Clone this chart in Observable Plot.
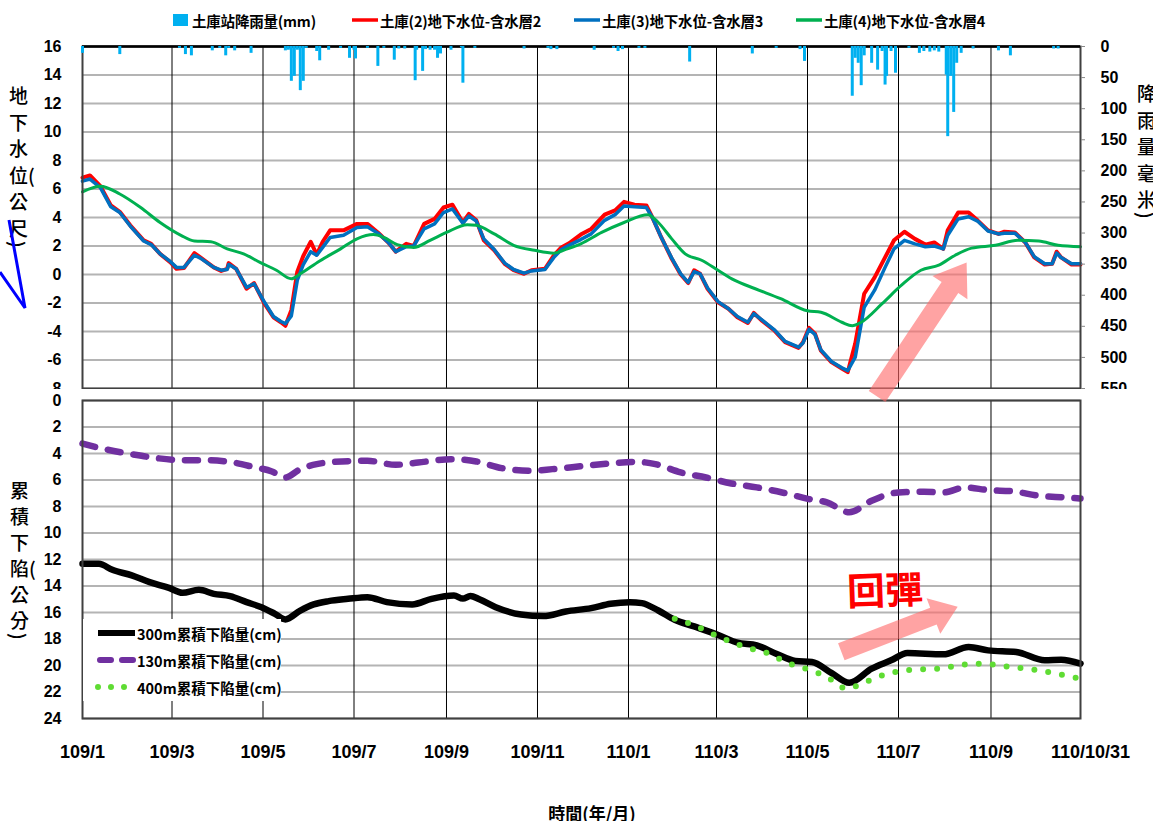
<!DOCTYPE html>
<html>
<head>
<meta charset="utf-8">
<script src="https://cdn.jsdelivr.net/npm/d3@7"></script>
<script src="https://cdn.jsdelivr.net/npm/@observablehq/plot@0.6"></script>
<style>
  html, body { margin: 0; padding: 0; background: #fff; }
  #chart { position: relative; width: 1153px; height: 821px; overflow: hidden; background: #fff; }
  #chart svg { position: absolute; left: 0; }
  .cjk { font-family: "Noto Sans CJK TC", "Noto Sans CJK SC", sans-serif; }
  .legend-top { position: absolute; top: 11px; height: 18px; display: flex; align-items: center; font-size: 14.5px; font-weight: 700; color: #000; white-space: nowrap; letter-spacing: -0.2px; }
  .vtitle { position: absolute; color: #000; font-weight: 500; }
  .vtitle div { position: absolute; left: 0; white-space: nowrap; }
  .sink-legend { position: absolute; left: 83px; top: 619px; width: 198px; height: 82px; background: #fff; }
  .sink-legend .row { position: absolute; left: 12px; height: 20px; display: flex; align-items: center; font-size: 14.5px; font-weight: 700; white-space: nowrap; }
  .xtitle { position: absolute; top: 800px; left: 0; width: 1184px; text-align: center; font-size: 17px; font-weight: 700; }
</style>
</head>
<body>
<div id="chart"></div>
<script>
// ---------- Time axis ----------
const tickDates  = ["2020-01-01","2020-03-01","2020-05-01","2020-07-01","2020-09-01","2020-11-01",
                    "2021-01-01","2021-03-01","2021-05-01","2021-07-01","2021-09-01","2021-10-31"];
const tickLabels = ["109/1","109/3","109/5","109/7","109/9","109/11",
                    "110/1","110/3","110/5","110/7","110/9","110/10/31"];

// ---------- Groundwater level (m): wells (2) and (3) ----------
const levelDates = [
  "2020-01-01","2020-01-06","2020-01-13","2020-01-20","2020-01-26",
  "2020-02-02","2020-02-11","2020-02-16","2020-02-22","2020-02-29",
  "2020-03-04","2020-03-09","2020-03-16","2020-03-20","2020-03-29",
  "2020-04-03","2020-04-07","2020-04-08","2020-04-13","2020-04-20","2020-04-25",
  "2020-05-02","2020-05-08","2020-05-13","2020-05-16","2020-05-20","2020-05-24","2020-05-28",
  "2020-06-02","2020-06-06","2020-06-10","2020-06-15","2020-06-24",
  "2020-07-03","2020-07-10","2020-07-17","2020-07-24","2020-07-29",
  "2020-08-05","2020-08-10","2020-08-17","2020-08-24","2020-08-30",
  "2020-09-05","2020-09-12","2020-09-16","2020-09-21","2020-09-26",
  "2020-10-03","2020-10-10","2020-10-16","2020-10-23","2020-10-28",
  "2020-11-06","2020-11-12","2020-11-17","2020-11-23","2020-11-30",
  "2020-12-07","2020-12-16","2020-12-23","2020-12-29",
  "2021-01-05","2021-01-13","2021-01-17","2021-01-23","2021-01-30",
  "2021-02-05","2021-02-10","2021-02-14","2021-02-18","2021-02-23",
  "2021-03-02","2021-03-09","2021-03-15","2021-03-22","2021-03-26","2021-03-31",
  "2021-04-09","2021-04-16","2021-04-25","2021-04-28",
  "2021-05-02","2021-05-06","2021-05-10","2021-05-17","2021-05-24","2021-05-28",
  "2021-06-02","2021-06-08","2021-06-15","2021-06-22","2021-06-28",
  "2021-07-05","2021-07-12","2021-07-19","2021-07-25","2021-07-31",
  "2021-08-03","2021-08-10","2021-08-17","2021-08-23","2021-08-30",
  "2021-09-06","2021-09-10","2021-09-17","2021-09-24","2021-09-30",
  "2021-10-07","2021-10-12","2021-10-15","2021-10-18","2021-10-25","2021-10-31"
];
const well2Level = [
  6.8, 6.95, 6.2, 4.85, 4.4,
  3.45, 2.4, 2.15, 1.45, 0.85,
  0.4, 0.45, 1.5, 1.2, 0.5,
  0.25, 0.4, 0.8, 0.4, -1.0, -0.6,
  -2.05, -3.0, -3.35, -3.6, -2.5, 0.2, 1.3,
  2.3, 1.4, 2.3, 3.1, 3.1,
  3.55, 3.55, 2.95, 2.25, 1.6,
  2.15, 2.0, 3.55, 3.9, 4.7,
  4.9, 3.65, 4.25, 3.8, 2.4,
  1.7, 0.75, 0.3, 0.05, 0.3,
  0.4, 1.35, 1.9, 2.25, 2.8,
  3.2, 4.2, 4.5, 5.1,
  4.9, 4.85, 4.0, 2.6, 1.1,
  0.0, -0.6, 0.3, 0.05, -1.0,
  -1.95, -2.4, -3.0, -3.4, -2.7, -3.2,
  -3.95, -4.75, -5.15, -4.75,
  -3.75, -4.15, -5.35, -6.15, -6.6, -6.85,
  -4.85, -1.35, -0.2, 1.2, 2.4,
  3.0, 2.5, 2.1, 2.25, 1.8,
  3.1, 4.35, 4.35, 3.8, 3.1,
  2.85, 3.0, 2.95, 2.25, 1.2,
  0.7, 0.75, 1.6, 1.2, 0.7, 0.7
];
const well3Level = [
  6.55, 6.7, 6.1, 4.75, 4.35,
  3.4, 2.35, 2.1, 1.45, 0.9,
  0.5, 0.5, 1.35, 1.15, 0.5,
  0.3, 0.35, 0.7, 0.4, -0.9, -0.65,
  -1.95, -2.95, -3.3, -3.45, -2.9, -0.4, 0.7,
  1.6, 1.35, 1.9, 2.6, 2.75,
  3.3, 3.35, 2.9, 2.25, 1.6,
  1.95, 2.0, 3.2, 3.55, 4.35,
  4.6, 3.6, 4.1, 3.75, 2.5,
  1.75, 0.8, 0.35, 0.1, 0.25,
  0.35, 1.2, 1.75, 2.1, 2.45,
  2.85, 3.8, 4.2, 4.8,
  4.75, 4.7, 4.0, 2.6, 1.15,
  0.05, -0.55, 0.2, 0.05, -0.95,
  -1.9, -2.4, -2.95, -3.35, -2.75, -3.15,
  -3.9, -4.7, -5.1, -4.8,
  -3.85, -4.2, -5.3, -6.1, -6.55, -6.75,
  -5.8, -2.3, -1.1, 0.5, 1.8,
  2.4, 2.15, 1.95, 2.0, 1.8,
  2.75, 3.9, 4.05, 3.75, 3.05,
  2.85, 2.9, 2.9, 2.25, 1.25,
  0.75, 0.75, 1.5, 1.2, 0.75, 0.75
];

// ---------- Groundwater level (m): well (4) ----------
const well4Dates = [
  "2020-01-01","2020-01-13","2020-01-26","2020-02-09","2020-02-22","2020-03-07","2020-03-16",
  "2020-03-27","2020-04-07","2020-04-18","2020-04-29","2020-05-10","2020-05-20","2020-05-26",
  "2020-06-08","2020-06-22","2020-07-03","2020-07-14","2020-07-21","2020-07-30","2020-08-10",
  "2020-08-21","2020-09-01","2020-09-15","2020-09-21","2020-10-03","2020-10-16","2020-10-30",
  "2020-11-12","2020-11-21","2020-11-30","2020-12-14","2020-12-29","2021-01-14","2021-01-21",
  "2021-01-30","2021-02-08","2021-02-19","2021-03-02","2021-03-13","2021-03-27","2021-04-13",
  "2021-05-01","2021-05-10","2021-05-24","2021-05-31","2021-06-06","2021-06-20","2021-07-03",
  "2021-07-16","2021-07-28","2021-08-08","2021-08-19","2021-09-04","2021-09-19","2021-10-03",
  "2021-10-16","2021-10-31"
];
const well4Level = [
  5.8, 6.2, 5.65, 4.7, 3.65, 2.75, 2.35,
  2.3, 1.8, 1.45, 0.85, 0.3, -0.3, 0.05,
  0.95, 1.8, 2.5, 2.8, 2.6, 2.1, 1.9,
  2.4, 2.95, 3.5, 3.45, 2.85, 2.05, 1.7,
  1.5, 1.8, 2.15, 2.95, 3.65, 4.2, 3.65,
  2.5, 1.45, 1.0, 0.3, -0.4, -1.0, -1.7,
  -2.55, -2.65, -3.35, -3.6, -3.35, -2.05, -0.75,
  0.3, 0.65, 1.35, 1.85, 2.05, 2.4, 2.35,
  2.05, 1.95
];

// ---------- Daily rainfall at Tuku station (mm) ----------
const rainDates = [
  "2020-01-01","2020-01-26","2020-03-06","2020-03-10","2020-03-14","2020-03-28","2020-04-02",
  "2020-04-06","2020-04-08","2020-04-12","2020-04-23","2020-05-16","2020-05-18","2020-05-20",
  "2020-05-22","2020-05-24","2020-05-26","2020-05-28","2020-05-30","2020-06-06","2020-06-08",
  "2020-06-14","2020-06-22","2020-06-28","2020-07-01","2020-07-02","2020-07-10","2020-07-17",
  "2020-07-21","2020-07-28","2020-07-31","2020-08-04","2020-08-11","2020-08-12","2020-08-16",
  "2020-08-18","2020-08-21","2020-08-24","2020-08-26","2020-08-28","2020-09-04","2020-09-11",
  "2020-09-12","2020-09-20","2020-10-23","2020-11-08","2020-11-10","2020-11-14","2020-12-09",
  "2020-12-22","2020-12-25","2020-12-28","2021-01-08","2021-01-12","2021-02-11","2021-03-25",
  "2021-04-10","2021-04-26","2021-04-29","2021-05-31","2021-06-02","2021-06-04","2021-06-06",
  "2021-06-08","2021-06-13","2021-06-17","2021-06-20","2021-06-22","2021-06-23","2021-06-26",
  "2021-06-29","2021-07-08","2021-07-15","2021-07-18","2021-07-22","2021-07-25","2021-07-28",
  "2021-08-02","2021-08-03","2021-08-05","2021-08-07","2021-08-09","2021-08-12","2021-08-20",
  "2021-09-06","2021-09-14","2021-10-13","2021-10-16"
];
const rainMm = [
  11, 13, 3, 13, 15, 7, 3,
  15, 3, 7, 11, 7, 6, 56,
  48, 6, 71, 56, 3, 8, 23,
  6, 3, 19, 6, 20, 3, 32,
  3, 22, 4, 4, 55, 6, 40,
  5, 6, 6, 19, 12, 6, 2,
  59, 3, 4, 3, 5, 5, 6,
  3, 8, 5, 3, 3, 25, 12,
  3, 5, 24, 80, 19, 27, 63,
  15, 27, 38, 8, 62, 48, 8,
  43, 3, 11, 8, 9, 7, 9,
  46, 145, 48, 106, 27, 11, 4,
  7, 15, 4, 4
];

// ---------- Cumulative subsidence (cm) ----------
const sub300Dates = [
  "2020-01-01","2020-01-12","2020-01-21","2020-02-03","2020-02-15","2020-02-28","2020-03-08",
  "2020-03-19","2020-03-29","2020-04-09","2020-04-20","2020-04-30","2020-05-09","2020-05-16",
  "2020-05-26","2020-06-04","2020-06-14","2020-06-27","2020-07-10","2020-07-23","2020-08-09",
  "2020-08-22","2020-09-06","2020-09-12","2020-09-17","2020-09-23","2020-10-04","2020-10-21",
  "2020-11-05","2020-11-20","2020-12-07","2020-12-20","2021-01-02","2021-01-10","2021-01-21",
  "2021-02-01","2021-02-14","2021-03-03","2021-03-15","2021-03-28","2021-04-10","2021-04-23",
  "2021-05-04","2021-05-17","2021-05-29","2021-06-13","2021-06-26","2021-07-07","2021-07-31",
  "2021-08-17","2021-08-30","2021-09-18","2021-10-07","2021-10-18","2021-10-31"
];
const sub300Cm = [
  12.33, 12.33, 12.78, 13.2, 13.71, 14.14, 14.51,
  14.29, 14.59, 14.77, 15.22, 15.6, 16.1, 16.52,
  15.85, 15.39, 15.14, 14.97, 14.84, 15.22, 15.39,
  14.97, 14.72, 14.95, 14.75, 15.0, 15.6, 16.15,
  16.27, 15.92, 15.67, 15.34, 15.22, 15.29, 15.85,
  16.55, 17.05, 17.73, 18.28, 18.48, 19.11, 19.66,
  19.73, 20.56, 21.31, 20.24, 19.61, 19.06, 19.16,
  18.6, 18.86, 18.98, 19.61, 19.56, 19.86
];
const sub130Dates = [
  "2020-01-01","2020-01-16","2020-02-03","2020-02-20","2020-03-08","2020-03-25","2020-04-11",
  "2020-04-24","2020-05-07","2020-05-16","2020-05-26","2020-06-06","2020-06-23","2020-07-10",
  "2020-07-29","2020-08-13","2020-09-04","2020-09-21","2020-10-08","2020-10-27","2020-11-11",
  "2020-12-03","2020-12-20","2021-01-06","2021-01-19","2021-02-05","2021-02-22","2021-03-11",
  "2021-03-28","2021-04-14","2021-05-02","2021-05-14","2021-05-29","2021-06-13","2021-07-01",
  "2021-07-18","2021-07-31","2021-08-15","2021-08-30","2021-09-16","2021-10-03","2021-10-20",
  "2021-10-31"
];
const sub130Cm = [
  3.25, 3.67, 4.05, 4.35, 4.5, 4.5, 4.68,
  5.0, 5.36, 5.81, 5.18, 4.8, 4.6, 4.55,
  4.85, 4.68, 4.43, 4.6, 5.1, 5.3, 5.18,
  4.93, 4.75, 4.63, 4.8, 5.43, 5.81, 6.26,
  6.56, 6.94, 7.44, 7.69, 8.44, 7.56, 6.94,
  6.89, 6.94, 6.56, 6.76, 6.86, 7.19, 7.31,
  7.39
];
const sub400Dates = [
  "2021-02-01","2021-02-14","2021-03-03","2021-03-20","2021-04-04","2021-04-19","2021-05-02",
  "2021-05-14","2021-05-27","2021-06-09","2021-06-24","2021-07-11","2021-07-28","2021-08-15",
  "2021-08-25","2021-09-14","2021-10-03","2021-10-20","2021-10-31"
];
const sub400Cm = [
  16.47, 16.97, 17.85, 18.6, 19.06, 19.86, 20.31,
  20.86, 21.74, 21.24, 20.61, 20.31, 20.24, 19.91,
  19.86, 20.11, 20.36, 20.74, 20.99
];

// ---------- Annotations (data coordinates) ----------
const levelArrow = [["2021-06-17", -8.6], ["2021-08-16", 0.8]];
const sinkArrow  = [["2021-05-24", 19.0], ["2021-08-10", 15.6]];
const reboundNote = [{date: "2021-06-22", cm: 14.45, text: "回彈"}];

// ---------- Helpers ----------
const parse = d3.utcParse("%Y-%m-%d");
const series = (dates, values, key) => dates.map((d, i) => ({date: parse(d), [key]: values[i]}));
const well2 = series(levelDates, well2Level, "level");
const well3 = series(levelDates, well3Level, "level");
const well4 = series(well4Dates, well4Level, "level");
const rain = series(rainDates, rainMm, "mm");
const sub300 = series(sub300Dates, sub300Cm, "cm");
const sub130 = series(sub130Dates, sub130Cm, "cm");
const sub400 = series(sub400Dates, sub400Cm, "cm");

const ticks = tickDates.map(parse);
const innerTicks = ticks.slice(1, -1);
const labelOf = new Map(ticks.map((d, i) => [+d, tickLabels[i]]));
const xDomain = [ticks[0], ticks[ticks.length - 1]];

const W = 1153;
const frameColor = "#404040";
const gridColor = "#b4b4b4";
const baseStyle = {
  fontFamily: "'Liberation Sans', Arial, sans-serif",
  fontSize: "16px",
  fontWeight: "bold",
  color: "#000",
  background: "transparent",
  overflow: "visible"
};
const panel = {width: W, marginLeft: 82, marginRight: 73};

const chart = document.getElementById("chart");

// ---------- Upper panel: groundwater levels ----------
const levelPlot = Plot.plot({
  ...panel, height: 400, marginTop: 46, marginBottom: 12,
  style: baseStyle,
  x: {type: "utc", domain: xDomain, axis: null},
  y: {domain: [-8, 16], axis: null},
  marks: [
    Plot.gridY(d3.range(-8, 17, 2), {stroke: gridColor, strokeWidth: 2, strokeOpacity: 1}),
    Plot.gridX(innerTicks, {stroke: "#000", strokeWidth: 1, strokeOpacity: 1}),
    Plot.axisY(d3.range(-8, 17, 2), {anchor: "left", tickSize: 0, tickPadding: 21, label: null, tickFormat: d => `${d}`}),
    Plot.line(well2, {x: "date", y: "level", stroke: "#ff0000", strokeWidth: 4}),
    Plot.line(well3, {x: "date", y: "level", stroke: "#0070c0", strokeWidth: 3.5}),
    Plot.line(well4, {x: "date", y: "level", stroke: "#00b050", strokeWidth: 3, curve: "monotone-x"}),
    Plot.frame({stroke: frameColor, strokeWidth: 2}),
    Plot.ruleY([16], {stroke: "#000", strokeWidth: 2.5})
  ]
});
levelPlot.style.top = "0px";
chart.appendChild(levelPlot);

// ---------- Upper panel: rainfall on the secondary (right) axis ----------
const rainPlot = Plot.plot({
  ...panel, height: 400, marginTop: 46, marginBottom: 12,
  style: baseStyle,
  x: {type: "utc", domain: xDomain, axis: null},
  y: {domain: [0, 550], reverse: true, axis: null},
  marks: [
    Plot.ruleX(rain, {x: "date", y1: () => 0, y2: "mm", stroke: "#00b0f0", strokeWidth: 3}),
    Plot.axisY(d3.range(0, 551, 50), {anchor: "right", tickSize: 4, tickPadding: 16, label: null, stroke: "#888", tickFormat: d => `${d}`})
  ]
});
rainPlot.style.top = "0px";
chart.appendChild(rainPlot);

// ---------- Lower panel: cumulative subsidence ----------
const sinkPlot = Plot.plot({
  ...panel, height: 432, marginTop: 11, marginBottom: 103,
  style: {...baseStyle, background: "#fff"},
  x: {type: "utc", domain: xDomain, axis: null},
  y: {domain: [0, 24], reverse: true, axis: null},
  marks: [
    Plot.gridY(d3.range(0, 25, 2), {stroke: gridColor, strokeWidth: 2, strokeOpacity: 1}),
    Plot.gridX(innerTicks, {stroke: "#000", strokeWidth: 1, strokeOpacity: 1}),
    Plot.axisY(d3.range(0, 25, 2), {anchor: "left", tickSize: 0, tickPadding: 21, label: null, tickFormat: d => `${d}`}),
    Plot.axisX(ticks.slice(0, -1), {anchor: "bottom", tickSize: 0, tickPadding: 27, fontSize: 18, label: null, tickFormat: d => labelOf.get(+d)}),
    Plot.axisX(ticks.slice(-1), {anchor: "bottom", tickSize: 0, tickPadding: 27, fontSize: 18, dx: 10, label: null, tickFormat: d => labelOf.get(+d)}),
    Plot.line(sub130, {x: "date", y: "cm", stroke: "#7030a0", strokeWidth: 6.5, strokeDasharray: "13 13", strokeLinecap: "round", curve: "monotone-x"}),
    Plot.line(sub300, {x: "date", y: "cm", stroke: "#000", strokeWidth: 6.5, curve: "monotone-x"}),
    Plot.line(sub400, {x: "date", y: "cm", stroke: "#5fdc33", strokeWidth: 6, strokeDasharray: "0 14", strokeLinecap: "round", curve: "monotone-x"}),
    Plot.frame({stroke: frameColor, strokeWidth: 2}),
    Plot.text(reboundNote, {x: d => parse(d.date), y: "cm", text: "text", fill: "#ff0000", fontSize: 38, fontWeight: 700,
      fontFamily: "'Noto Sans CJK TC', sans-serif", rotate: -2})
  ]
});
const sinkTop = 389;
sinkPlot.style.top = sinkTop + "px";
chart.appendChild(sinkPlot);

// ---------- Legend above the upper panel ----------
const topLegend = [
  {left: 171, kind: "square", color: "#00b0f0", text: "土庫站降雨量(mm)"},
  {left: 352, kind: "line", color: "#ff0000", text: "土庫(2)地下水位-含水層2"},
  {left: 574, kind: "line", color: "#0070c0", text: "土庫(3)地下水位-含水層3"},
  {left: 796, kind: "line", color: "#00b050", text: "土庫(4)地下水位-含水層4"}
];
for (const item of topLegend) {
  const el = document.createElement("div");
  el.className = "legend-top cjk";
  el.style.left = item.left + "px";
  const sw = item.kind === "square"
    ? `<svg width="20" height="14" style="position:static"><rect x="2" y="1" width="15" height="12" fill="${item.color}"/></svg>`
    : `<svg width="27" height="14" style="position:static"><line x1="0" x2="26" y1="7" y2="7" stroke="${item.color}" stroke-width="3.5"/></svg>`;
  el.innerHTML = sw + `<span style="margin-left:1px">${item.text}</span>`;
  chart.appendChild(el);
}

// ---------- Legend inside the lower panel ----------
const sinkLegend = document.createElement("div");
sinkLegend.className = "sink-legend cjk";
const sinkRows = [
  {top: 4, swatch: `<line x1="3" x2="40" y1="7" y2="7" stroke="#000" stroke-width="6"/>`, text: "300m累積下陷量(cm)"},
  {top: 31, swatch: `<line x1="5" x2="40" y1="7" y2="7" stroke="#7030a0" stroke-width="6" stroke-dasharray="11 11" stroke-linecap="round"/>`, text: "130m累積下陷量(cm)"},
  {top: 58, swatch: `<line x1="3" x2="30" y1="7" y2="7" stroke="#5fdc33" stroke-width="6" stroke-dasharray="0 13" stroke-linecap="round"/>`, text: "400m累積下陷量(cm)"}
];
sinkLegend.innerHTML = sinkRows.map(r =>
  `<div class="row" style="top:${r.top}px"><svg width="42" height="14" style="position:static">${r.swatch}</svg><span>${r.text}</span></div>`
).join("");
chart.appendChild(sinkLegend);

// ---------- Axis titles (stacked characters) ----------
function verticalTitle(rows, left, firstCenter, pitch, size) {
  const box = document.createElement("div");
  box.className = "vtitle cjk";
  box.style.left = left + "px";
  box.style.top = "0px";
  box.style.fontSize = size + "px";
  rows.forEach((t, i) => {
    const r = document.createElement("div");
    r.style.lineHeight = (size * 1.2) + "px";
    if (t === ")") {
      // closing bracket turned to follow the vertical reading direction
      r.style.transform = "rotate(90deg)";
      r.style.left = (size * 0.25) + "px";
      r.style.top = (firstCenter + (i - 0.4) * pitch - size * 0.62) + "px";
    } else {
      r.style.top = (firstCenter + i * pitch - size * 0.62) + "px";
    }
    r.textContent = t;
    box.appendChild(r);
  });
  chart.appendChild(box);
}
verticalTitle(["地", "下", "水", "位(", "公", "尺", ")"], 9, 96, 26.5, 19);
verticalTitle(["降", "雨", "量(", "毫", "米", ")"], 1137, 94, 26.5, 19);
verticalTitle(["累", "積", "下", "陷(", "公", "分", ")"], 10, 491, 26, 19);

const xTitle = document.createElement("div");
xTitle.className = "xtitle cjk";
xTitle.textContent = "時間(年/月)";
chart.appendChild(xTitle);

// ---------- Overlay: highlight arrows and side stroke ----------
const overlay = d3.create("svg")
  .attr("width", W).attr("height", 821)
  .style("position", "absolute").style("left", "0px").style("top", "0px")
  .style("pointer-events", "none");

function blockArrow([x0, y0], [x1, y1], shaftHalf, headHalf, headLen) {
  const dx = x1 - x0, dy = y1 - y0, len = Math.hypot(dx, dy);
  const ux = dx / len, uy = dy / len, px = -uy, py = ux;
  const bx = x1 - ux * headLen, by = y1 - uy * headLen;
  return [
    [x0 + px * shaftHalf, y0 + py * shaftHalf],
    [bx + px * shaftHalf, by + py * shaftHalf],
    [bx + px * headHalf, by + py * headHalf],
    [x1, y1],
    [bx - px * headHalf, by - py * headHalf],
    [bx - px * shaftHalf, by - py * shaftHalf],
    [x0 - px * shaftHalf, y0 - py * shaftHalf]
  ].map(p => p.join(",")).join(" ");
}
const lx = levelPlot.scale("x"), ly = levelPlot.scale("y");
const sx = sinkPlot.scale("x"), sy = sinkPlot.scale("y");
const levelPts = levelArrow.map(([d, v]) => [lx.apply(parse(d)), ly.apply(v)]);
const sinkPts = sinkArrow.map(([d, v]) => [sx.apply(parse(d)), sy.apply(v) + sinkTop]);

overlay.append("polygon").attr("points", blockArrow(levelPts[0], levelPts[1], 10, 21, 30))
  .attr("fill", "#ff6b6b").attr("fill-opacity", 0.62);
overlay.append("polygon").attr("points", blockArrow(sinkPts[0], sinkPts[1], 9, 19, 26))
  .attr("fill", "#ff6b6b").attr("fill-opacity", 0.62);

// blue pointer stroke at the left edge
overlay.append("polyline").attr("points", "9,220 25,308 0,272")
  .attr("fill", "none").attr("stroke", "#0000ff").attr("stroke-width", 3);

chart.appendChild(overlay.node());
</script>
</body>
</html>
